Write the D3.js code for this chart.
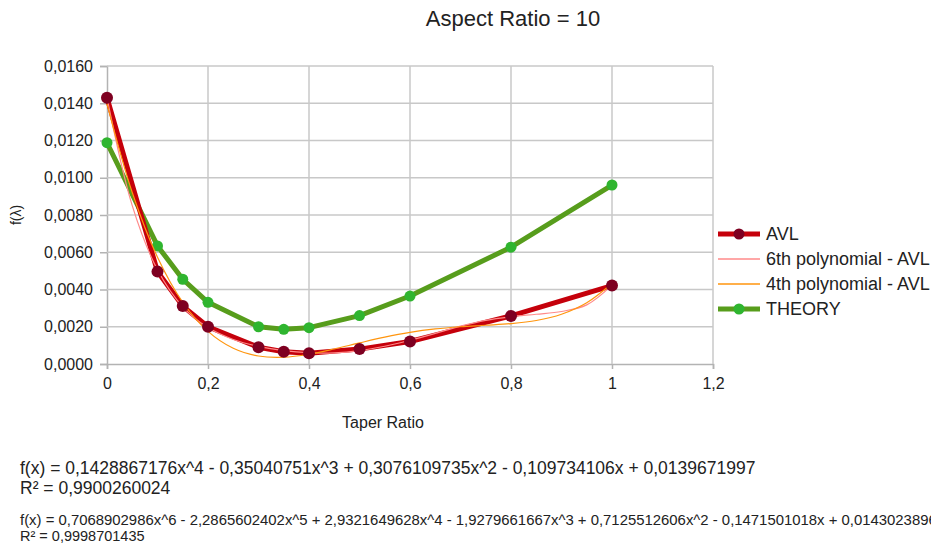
<!DOCTYPE html>
<html>
<head>
<meta charset="utf-8">
<script src="https://cdn.jsdelivr.net/npm/d3@7"></script>
<style>
  body { margin: 0; background: #fff; }
  svg text { font-family: "Liberation Sans", Arial, sans-serif; fill: #222; }
</style>
</head>
<body>
<script>
// Data
const taperRatio = [0, 0.1, 0.15, 0.2, 0.3, 0.35, 0.4, 0.5, 0.6, 0.8, 1];
const avlValues = [0.01430, 0.00496, 0.00311, 0.00200, 0.00090, 0.00066, 0.00058, 0.00080, 0.00121, 0.00258, 0.00421];
const theoryValues = [0.01188, 0.00634, 0.00455, 0.00331, 0.00200, 0.00186, 0.00195, 0.00260, 0.00365, 0.00627, 0.00961];

// trendline samples
const trendX = [0, 0.05, 0.1, 0.15, 0.2, 0.25, 0.3, 0.35, 0.4, 0.45, 0.5, 0.55, 0.6, 0.65, 0.7, 0.75, 0.8, 0.85, 0.9, 0.95, 1];
const poly6Values = [0.014302, 0.008501, 0.005056, 0.003072, 0.001954, 0.001318, 0.000942, 0.000715, 0.000604, 0.000601, 0.000719, 0.000952, 0.001276, 0.001643, 0.002031, 0.002342, 0.002538, 0.002671, 0.002820, 0.003173, 0.004233];
const poly4Values = [0.013967, 0.009206, 0.005734, 0.003317, 0.001750, 0.000842, 0.000428, 0.000362, 0.000523, 0.000806, 0.001132, 0.001442, 0.001697, 0.001881, 0.001999, 0.002080, 0.002168, 0.002336, 0.002672, 0.003290, 0.004323];

const xTicks = [0, 0.2, 0.4, 0.6, 0.8, 1, 1.2];
const yTicks = [0, 0.002, 0.004, 0.006, 0.008, 0.010, 0.012, 0.014, 0.016];

const legendLabels = ['AVL', '6th polynomial - AVL', '4th polynomial - AVL', 'THEORY'];
const equationLines = [
  'f(x) = 0,1428867176x^4 - 0,35040751x^3 + 0,3076109735x^2 - 0,109734106x + 0,0139671997',
  'R² = 0,9900260024',
  'f(x) = 0,7068902986x^6 - 2,2865602402x^5 + 2,9321649628x^4 - 1,9279661667x^3 + 0,7125512606x^2 - 0,1471501018x + 0,0143023896',
  'R² = 0,9998701435'
];

const width = 931;
const height = 546;
const plot = { left: 107, right: 713, top: 66, bottom: 364 };

const locale = d3.formatLocale({ decimal: ',', thousands: '.', grouping: [3], currency: ['', ''] });
const fmtY = locale.format('.4f');
const fmtX = locale.format('.1~f');

const svg = d3.select('body')
  .append('svg')
  .attr('width', width)
  .attr('height', height);

const xScale = d3.scaleLinear().domain([0, 1.2]).range([plot.left, plot.right]);
const yScale = d3.scaleLinear().domain([0, 0.016]).range([plot.bottom, plot.top]);

// title
svg.append('text')
  .attr('x', 513)
  .attr('y', 26)
  .attr('text-anchor', 'middle')
  .style('font-size', '22px')
  .text('Aspect Ratio = 10');

// axes
svg.append('g')
  .attr('transform', `translate(${plot.left},0)`)
  .call(d3.axisLeft(yScale).tickValues(yTicks).tickSize(7).tickPadding(7).tickFormat(fmtY))
  .call(g => g.select('.domain').attr('stroke', '#b3b3b3').attr('stroke-width', 1.5))
  .call(g => g.selectAll('.tick line').attr('stroke', '#b3b3b3').attr('stroke-width', 1.5))
  .call(g => g.selectAll('.tick text').style('font-size', '16px').attr('fill', '#222'));

svg.append('g')
  .attr('transform', `translate(0,${plot.bottom})`)
  .call(d3.axisBottom(xScale).tickValues(xTicks).tickSize(5).tickPadding(9).tickFormat(fmtX))
  .call(g => g.select('.domain').attr('stroke', '#b3b3b3').attr('stroke-width', 1.5))
  .call(g => g.selectAll('.tick line').attr('stroke', '#b3b3b3').attr('stroke-width', 1.5))
  .call(g => g.selectAll('.tick text').style('font-size', '16px').attr('fill', '#222'));

// grid
svg.append('g')
  .selectAll('line')
  .data(yTicks.slice(1))
  .enter()
  .append('line')
  .attr('x1', plot.left)
  .attr('x2', plot.right)
  .attr('y1', d => yScale(d))
  .attr('y2', d => yScale(d))
  .attr('stroke', '#c8c8c8')
  .attr('stroke-width', 1.5);

svg.append('g')
  .selectAll('line')
  .data(xTicks.slice(1))
  .enter()
  .append('line')
  .attr('x1', d => xScale(d))
  .attr('x2', d => xScale(d))
  .attr('y1', plot.top)
  .attr('y2', plot.bottom)
  .attr('stroke', '#c8c8c8')
  .attr('stroke-width', 1.5);

// axis labels
svg.append('text')
  .attr('transform', 'translate(21,215) rotate(-90)')
  .attr('text-anchor', 'middle')
  .style('font-size', '14px')
  .text('f(λ)');

svg.append('text')
  .attr('x', 383)
  .attr('y', 428)
  .attr('text-anchor', 'middle')
  .style('font-size', '16px')
  .text('Taper Ratio');

const line = d3.line()
  .x(d => xScale(d[0]))
  .y(d => yScale(d[1]));

// THEORY
const theoryPts = taperRatio.map((t, i) => [t, theoryValues[i]]);
svg.append('path')
  .attr('d', line(theoryPts))
  .attr('fill', 'none')
  .attr('stroke', '#579d1c')
  .attr('stroke-width', 5)
  .attr('stroke-linejoin', 'round');

svg.append('g')
  .selectAll('circle')
  .data(theoryPts)
  .enter()
  .append('circle')
  .attr('cx', d => xScale(d[0]))
  .attr('cy', d => yScale(d[1]))
  .attr('r', 5.5)
  .attr('fill', '#2fb52f');

// AVL
const avlPts = taperRatio.map((t, i) => [t, avlValues[i]]);
svg.append('path')
  .attr('d', line(avlPts))
  .attr('fill', 'none')
  .attr('stroke', '#c5000b')
  .attr('stroke-width', 5)
  .attr('stroke-linejoin', 'round');

// trendlines
const smooth = d3.line()
  .x(d => xScale(d[0]))
  .y(d => yScale(d[1]))
  .curve(d3.curveCatmullRom);

svg.append('path')
  .attr('d', smooth(trendX.map((t, i) => [t, poly6Values[i]])))
  .attr('fill', 'none')
  .attr('stroke', '#ff8a8a')
  .attr('stroke-width', 1.2);

svg.append('path')
  .attr('d', smooth(trendX.map((t, i) => [t, poly4Values[i]])))
  .attr('fill', 'none')
  .attr('stroke', '#ff950e')
  .attr('stroke-width', 1.2);

svg.append('g')
  .selectAll('circle')
  .data(avlPts)
  .enter()
  .append('circle')
  .attr('cx', d => xScale(d[0]))
  .attr('cy', d => yScale(d[1]))
  .attr('r', 6)
  .attr('fill', '#7e0021');

// legend
const legendColors = ['#c5000b', '#ff8a8a', '#ff950e', '#579d1c'];
const legendWidths = [5, 1.5, 1.5, 5];
const legendMarkers = ['#7e0021', null, null, '#2fb52f'];

const legend = svg.append('g')
  .attr('transform', 'translate(718,234)');

const legendItems = legend.selectAll('.legend-item')
  .data(legendLabels)
  .enter()
  .append('g')
  .attr('class', 'legend-item')
  .attr('transform', (d, i) => `translate(0, ${i * 25})`);

legendItems.append('line')
  .attr('x1', 0)
  .attr('x2', 42)
  .attr('stroke', (d, i) => legendColors[i])
  .attr('stroke-width', (d, i) => legendWidths[i]);

legendItems.filter((d, i) => legendMarkers[i])
  .append('circle')
  .attr('cx', 21)
  .attr('r', 5.5)
  .attr('fill', d => legendMarkers[legendLabels.indexOf(d)]);

legendItems.append('text')
  .attr('x', 48)
  .attr('y', 6)
  .style('font-size', '18px')
  .text(d => d);

// equations
const eqY = [474, 494, 525, 541];
const eqSize = [17.5, 17.5, 14.9, 14.5];
svg.append('g')
  .selectAll('text')
  .data(equationLines)
  .enter()
  .append('text')
  .attr('x', 20)
  .attr('y', (d, i) => eqY[i])
  .style('font-size', (d, i) => eqSize[i] + 'px')
  .text(d => d);
</script>
</body>
</html>
